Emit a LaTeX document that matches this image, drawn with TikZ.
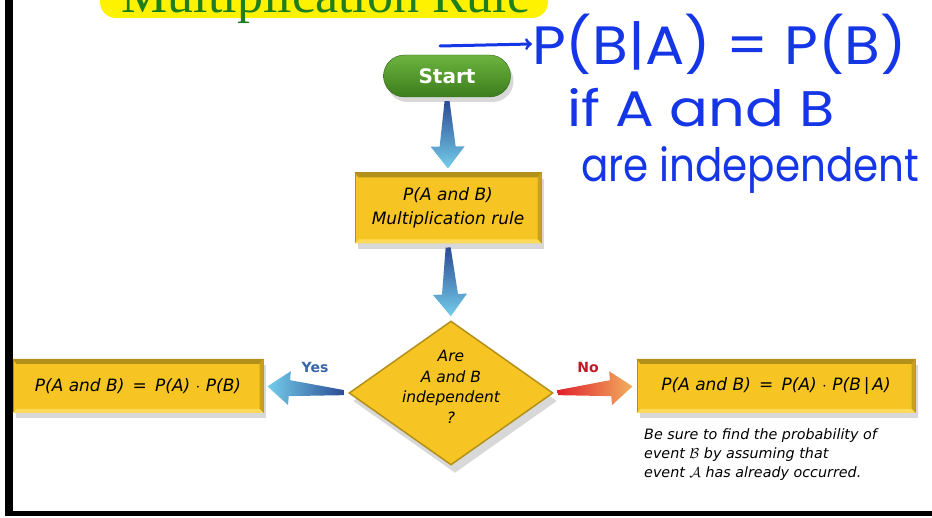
\documentclass[tikz,border=0pt]{standalone}
\usepackage{fontspec}
\setmainfont{Liberation Serif}
\newfontfamily\chartfont{DejaVu Sans}
\newfontfamily\handfont{Poppins}
\usetikzlibrary{arrows,backgrounds,calc,shapes.geometric,shadows}

\definecolor{boxyellow}{HTML}{F6C523}
\definecolor{bevdark}{HTML}{B39019}
\definecolor{bevlight}{HTML}{FBDA5A}
\definecolor{startlight}{HTML}{6CB43F}
\definecolor{startdark}{HTML}{3C7D1D}
\definecolor{inkblue}{HTML}{1536E6}
\definecolor{titlegreen}{HTML}{1F7F1F}
\definecolor{arrowdark}{HTML}{2B4C94}
\definecolor{arrowlight}{HTML}{74CDEB}
\definecolor{nored}{HTML}{E0202A}
\definecolor{noorange}{HTML}{F2B060}

\tikzset{
  rulebox/.style={rectangle, fill=boxyellow, draw=bevdark, line width=1pt, inner sep=0pt, align=center,
    font=\chartfont\itshape\fontsize{17}{24}\selectfont,
    drop shadow={opacity=0.3, shadow xshift=3pt, shadow yshift=-6pt}},
  startpill/.style={rectangle, rounded corners=21pt, top color=startlight, bottom color=startdark, draw=startdark!80!black,
    text=white, font=\chartfont\bfseries\fontsize{20}{20}\selectfont, minimum width=127pt, minimum height=42pt,
    drop shadow={opacity=0.3, shadow xshift=3pt, shadow yshift=-5pt}},
  decision/.style={diamond, fill=boxyellow, draw=bevdark, line width=1.5pt, inner sep=0pt,
    minimum width=204pt, minimum height=144pt,
    drop shadow={opacity=0.3, shadow xshift=4pt, shadow yshift=-8pt}},
  asktext/.style={align=center, inner sep=0pt, font=\chartfont\itshape\fontsize{15.5}{20.5}\selectfont},
  hint/.style={align=left, inner sep=0pt, font=\chartfont\itshape\fontsize{14.3}{19}\selectfont},
  branch/.style={font=\chartfont\bfseries\fontsize{14}{14}\selectfont},
  ink/.style={text=inkblue, inner sep=0pt, font=\handfont\fontsize{54}{54}\selectfont}
}

% tapered arrow between two points
\newcommand{\flowarrow}[3]{%
  \coordinate (fa-a) at ($(#1)!4pt!(#2)$);
  \coordinate (fa-b) at ($(#2)!4pt!(#1)$);
  \coordinate (fa-n) at ($(fa-b)!22pt!(fa-a)$);
  \shade[#3] ($(fa-a)!2.5pt!90:(fa-b)$) -- ($(fa-n)!8pt!90:(fa-b)$) -- ($(fa-n)!17pt!90:(fa-b)$) -- (fa-b)
    -- ($(fa-n)!17pt!-90:(fa-b)$) -- ($(fa-n)!8pt!-90:(fa-b)$) -- ($(fa-a)!2.5pt!-90:(fa-b)$) -- cycle;}

% bevelled edges of a box
\newcommand{\bevel}[1]{%
  \fill[bevdark] (#1.north west) -- (#1.north east) -- ($(#1.north east)+(-4,5)$) -- ($(#1.north west)+(4,5)$) -- cycle;
  \fill[bevdark!70!boxyellow] (#1.north east) -- (#1.south east) -- ($(#1.south east)+(-4,-4)$) -- ($(#1.north east)+(-4,5)$) -- cycle;
  \fill[bevlight] (#1.south west) -- (#1.south east) -- ($(#1.south east)+(-4,-4)$) -- ($(#1.south west)+(4,-4)$) -- cycle;}

\begin{document}
\begin{tikzpicture}[x=1pt,y=1pt,yscale=-1,xscale=1]
\useasboundingbox (0,0) rectangle (932,518);
\clip (0,0) rectangle (932,518);
\fill[white] (0,0) rectangle (932,518);

%Shape: frame
\fill[black] (5,0) rectangle (13,516);
\fill[black] (5,511) rectangle (932,516);

%Shape: title banner
\fill[yellow] [rounded corners=16pt] (100,-40) rectangle (548,18);
% Text Node
\node[anchor=base, text=titlegreen, inner sep=0pt, font=\fontsize{52}{52}\selectfont] (title) at (326,13) {Multiplication Rule};

% Flow chart
\node[startpill] (start) at (447,76) {Start};
\node[rulebox, minimum width=186pt, minimum height=70pt] (mult) at (448,208) {P(A and B)\\Multiplication rule};
\node[decision] (indep) at (451,393) {};
\node[asktext] (ask) at (451,387) {Are\\A and B\\independent\\?};
\node[rulebox, minimum width=250pt, minimum height=53pt] (yesbox) at (138,386) {P(A and B) \,=\, P(A) $\cdot$ P(B)};
\node[rulebox, minimum width=278pt, minimum height=53pt] (nobox) at (776,386) {P(A and B) \,=\, P(A) $\cdot$ P(B\,|\,A)};
\bevel{mult}
\bevel{yesbox}
\bevel{nobox}

\flowarrow{start.south}{mult.north}{top color=arrowdark, bottom color=arrowlight}
\flowarrow{mult.south}{indep.north}{top color=arrowdark, bottom color=arrowlight}
\flowarrow{indep.west}{yesbox.east}{left color=arrowlight, right color=arrowdark}
\flowarrow{indep.east}{nobox.west}{left color=nored, right color=noorange}

% Text Node
\node[branch, text=arrowdark!80!arrowlight] (yes) at (315,367) {Yes};
\node[branch, text=nored!85!black] (no) at (588,367) {No};
\node[hint, anchor=north west] (note) at (644,428) {Be sure to find the probability of\\event $\mathcal{B}$ by assuming that\\event $\mathcal{A}$ has already occurred.};

% handwritten notes
\node[ink, anchor=west] (ink1) at (532,44) {\scalebox{1.08}[1]{P(B|A) = P(B)}};
\node[ink, anchor=west, font=\handfont\fontsize{50}{50}\selectfont] (ink2) at (567,108) {\scalebox{1.15}[1]{if A and B}};
\node[ink, anchor=west, font=\handfont\fontsize{46}{46}\selectfont] (ink3) at (581,170) {\scalebox{0.88}[1]{are independent}};
\coordinate (pen) at (440,46);
\draw[inkblue, line width=3pt, line cap=round, ->] (pen) -- (ink1.west);

\end{tikzpicture}
\end{document}
